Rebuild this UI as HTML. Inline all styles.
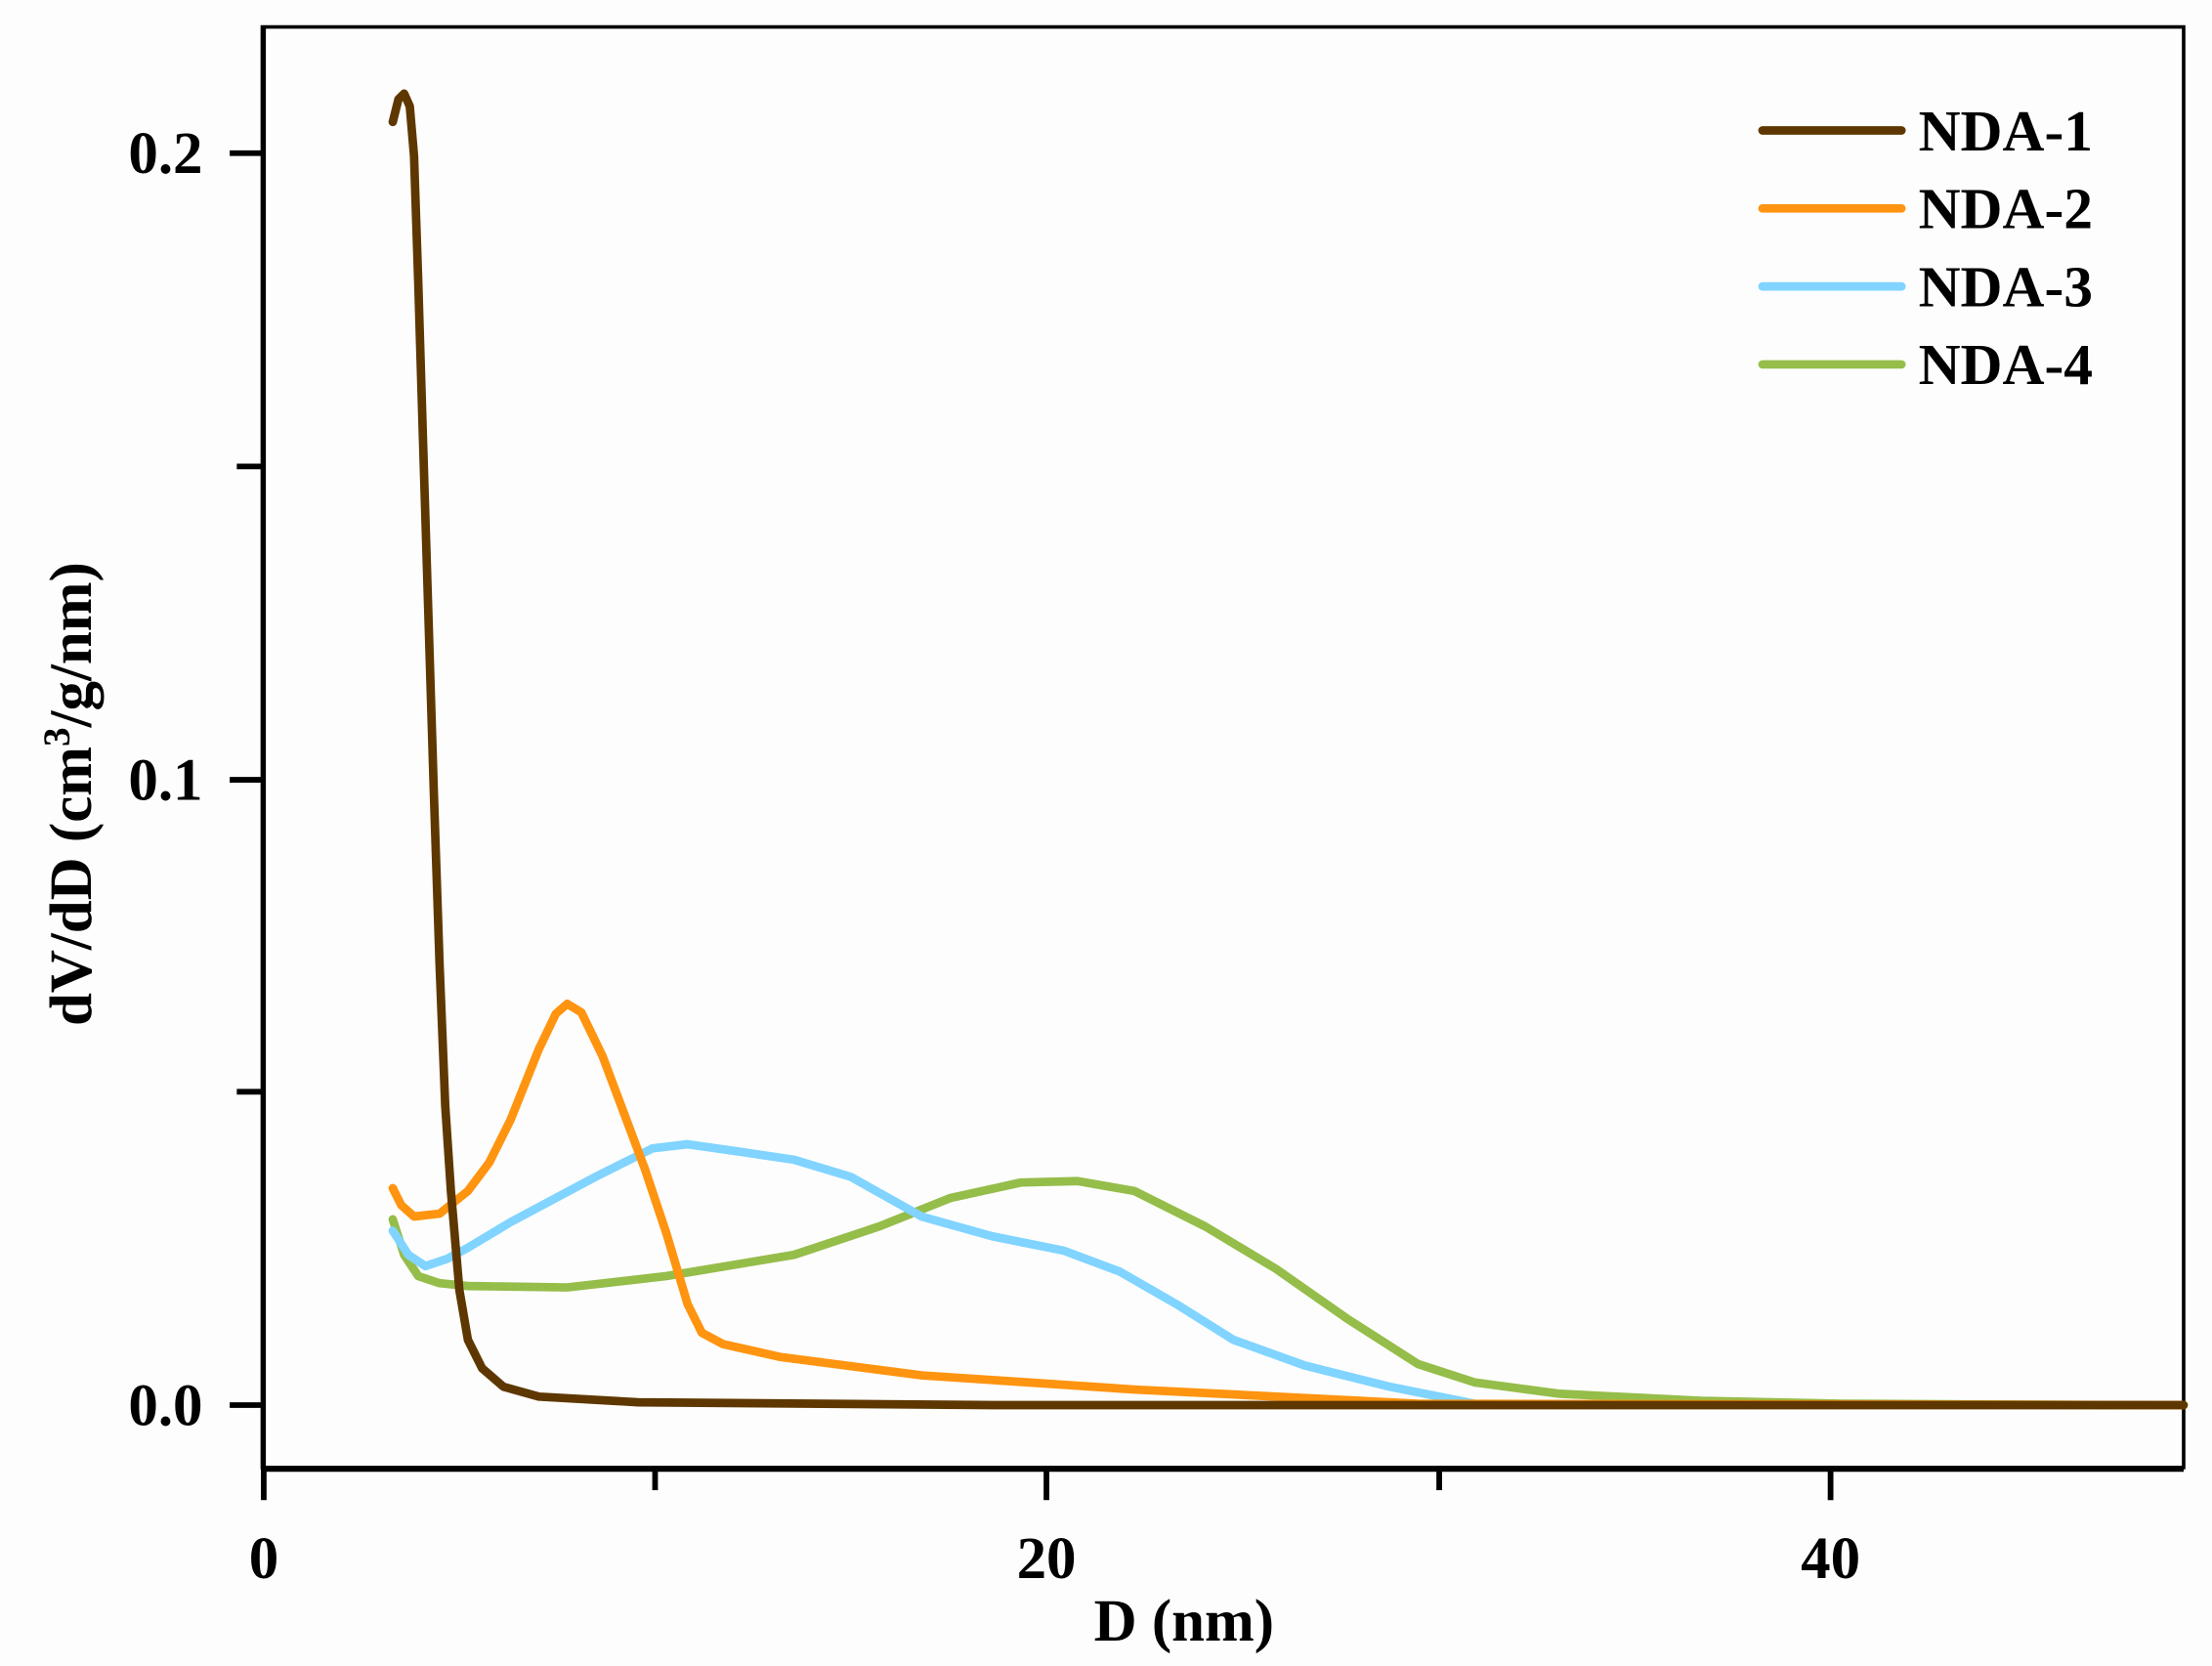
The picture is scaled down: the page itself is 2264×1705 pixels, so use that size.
<!DOCTYPE html>
<html><head><meta charset="utf-8"><style>html,body{margin:0;padding:0;background:#fdfdfd}svg{display:block}</style></head>
<body>
<svg width="2264" height="1705" viewBox="0 0 1560 1175" preserveAspectRatio="none" xmlns="http://www.w3.org/2000/svg" font-family="Liberation Serif, serif" font-weight="bold">
<rect width="1560" height="1175" fill="#fdfdfd"/>
<rect x="185" y="19" width="1355" height="1016" fill="none" stroke="#000" stroke-width="2.5"/>
<line x1="185" y1="1036" x2="1540" y2="1036" stroke="#000" stroke-width="4"/>
<line x1="186" y1="19" x2="186" y2="1036" stroke="#000" stroke-width="3"/>
<g stroke="#000" stroke-width="4">
<line x1="186" y1="1036" x2="186" y2="1058"/><line x1="738" y1="1036" x2="738" y2="1058"/><line x1="1291" y1="1036" x2="1291" y2="1058"/>
<line x1="462" y1="1036" x2="462" y2="1051"/><line x1="1015" y1="1036" x2="1015" y2="1051"/>
<line x1="162" y1="108" x2="186" y2="108"/><line x1="162" y1="550" x2="186" y2="550"/><line x1="162" y1="991" x2="186" y2="991"/>
<line x1="167" y1="329" x2="186" y2="329"/><line x1="167" y1="770" x2="186" y2="770"/>
</g>
<g font-size="42" text-anchor="end">
<text x="143" y="122">0.2</text><text x="143" y="564">0.1</text><text x="143" y="1005">0.0</text>
</g>
<g font-size="42" text-anchor="middle">
<text x="186" y="1113">0</text><text x="738" y="1113">20</text><text x="1291" y="1113">40</text>
<text x="835" y="1157">D (nm)</text>
</g>
<text transform="translate(64,560) rotate(-90)" font-size="42" text-anchor="middle">dV/dD (cm<tspan font-size="27" dy="-15">3</tspan><tspan dy="15">/g/nm)</tspan></text>
<g fill="none" stroke-width="6" stroke-linecap="round" stroke-linejoin="round">
<polyline stroke="#95bd4a" points="277,860 285,885 295,900 310,905 330,907 400,908 470,900 560,885 620,865 670,845 720,834 760,833 800,840 850,865 900,895 950,930 1000,962 1040,975 1100,983 1200,988 1300,990 1497,991"/>
<polyline stroke="#80d4ff" points="277,868 288,885 300,893 315,888 330,880 360,862 420,830 460,810 485,807 520,812 560,818 600,830 650,858 700,872 750,882 790,897 830,920 870,945 920,963 980,978 1045,991"/>
<polyline stroke="#ff9410" points="277,838 283,850 292,858 310,856 330,840 345,820 360,790 380,740 392,715 400,708 410,714 425,745 440,785 455,825 470,870 485,920 495,940 510,948 550,957 650,970 800,980 1000,990 1540,991"/>
<polyline stroke="#5e3700" points="277,86 281,70 285,66 289,75 292,110 295,200 298,300 302,430 306,560 310,680 314,780 318,840 324,910 330,945 340,965 355,978 380,985 450,989 700,991 1540,991"/>
</g>
<g stroke-width="6" stroke-linecap="round">
<line x1="1243" y1="92" x2="1341" y2="92" stroke="#5e3700"/>
<line x1="1243" y1="147" x2="1341" y2="147" stroke="#ff9410"/>
<line x1="1243" y1="202" x2="1341" y2="202" stroke="#80d4ff"/>
<line x1="1243" y1="257" x2="1341" y2="257" stroke="#95bd4a"/>
</g>
<g font-size="41">
<text x="1353" y="106">NDA-1</text><text x="1353" y="161">NDA-2</text><text x="1353" y="216">NDA-3</text><text x="1353" y="271">NDA-4</text>
</g>
</svg>
</body></html>
